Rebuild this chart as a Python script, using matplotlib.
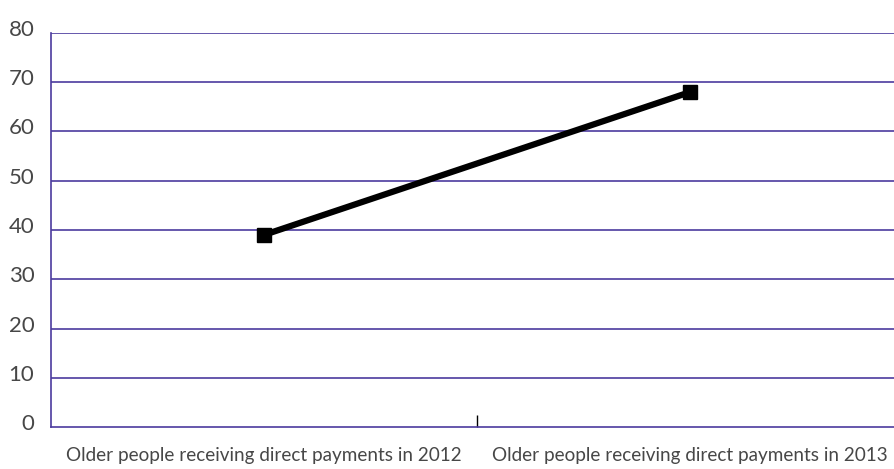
import matplotlib
matplotlib.use("Agg")
import matplotlib.pyplot as plt
from matplotlib.transforms import ScaledTranslation

categories = ["Older people receiving direct payments in 2012",
              "Older people receiving direct payments in 2013"]
values = [39, 68]
yticks = [0, 10, 20, 30, 40, 50, 60, 70, 80]

purple = "#4b3b9e"
txt = "#474747"

plt.rcParams['font.family'] = ['Lato', 'DejaVu Sans']

fig = plt.figure(figsize=(8.95, 4.69), dpi=100)
ax = fig.add_axes([51/895, 1-427/469, (903-51)/895, (427-33)/469])

x = [0.5, 1.5]
ax.plot(x, values, color="black", lw=4.5, marker="s", markersize=10, solid_capstyle="butt")
ax.set_xlim(0, 2)
ax.set_ylim(0, 80)
ax.set_yticks(yticks)
for y in yticks[1:]:
    ax.axhline(y, color=purple, lw=1.2, zorder=0)
ax.set_xticks([1], minor=False)
ax.set_xticklabels([""])
ax.tick_params(axis='x', direction='in', length=9, width=1, color='black')
ax.tick_params(axis='y', length=0, pad=12, labelsize=16, labelcolor=txt)
for lbl in ax.get_yticklabels():
    lbl.set_transform(lbl.get_transform() + ScaledTranslation(0, 5/100, fig.dpi_scale_trans))
for xi, c in zip(x, categories):
    ax.text(xi, -0.072, c, transform=ax.get_xaxis_transform(), ha='center', va='center',
            fontsize=13.6, color=txt)
for s in ['top', 'right']:
    ax.spines[s].set_visible(False)
for s in ['left', 'bottom']:
    ax.spines[s].set_color(purple)
    ax.spines[s].set_linewidth(1.2)

fig.savefig("out.png", dpi=100)
